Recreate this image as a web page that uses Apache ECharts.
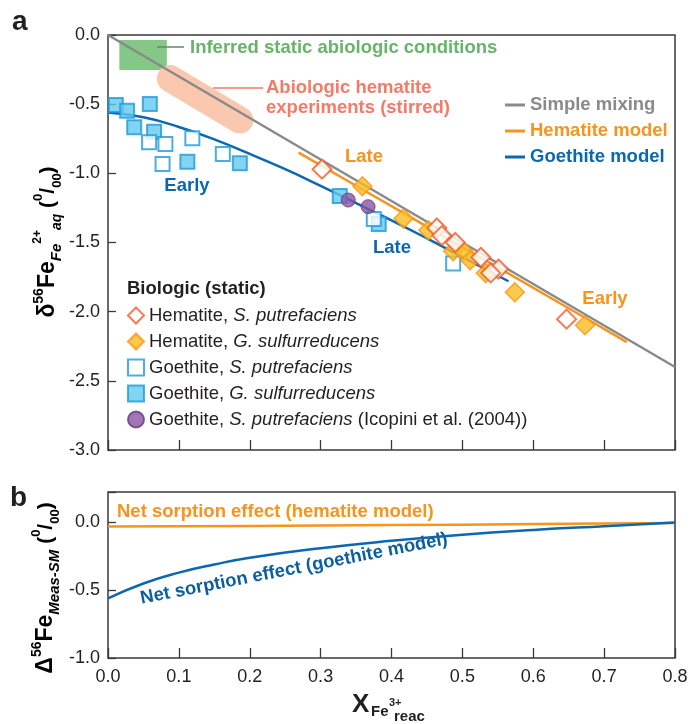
<!DOCTYPE html>
<html><head><meta charset="utf-8">
<script src="https://cdn.jsdelivr.net/npm/echarts@6/dist/echarts.min.js"></script>
<style>html,body{margin:0;padding:0;background:#fff}#c{width:692px;height:724px}</style>
</head><body><div id="c"></div>
<script>
// ---------- data ----------
const xTicks = [0, 0.1, 0.2, 0.3, 0.4, 0.5, 0.6, 0.7, 0.8];
const yTicksTop = [0, -0.5, -1.0, -1.5, -2.0, -2.5, -3.0];
const yTicksBottom = [0, -0.5, -1.0];

const mixX = [0, 0.8];
const mixY = [0, -2.4];

const hemModelX = [0.269, 0.35, 0.45, 0.55, 0.65, 0.732];
const hemModelY = [-0.85, -1.09, -1.385, -1.68, -1.975, -2.22];

const goeModelX = [0, 0.05, 0.1, 0.15, 0.2, 0.25, 0.3, 0.35, 0.4, 0.45, 0.5, 0.565];
const goeModelY = [-0.56, -0.595, -0.665, -0.755, -0.86, -0.97, -1.09, -1.215, -1.34, -1.47, -1.605, -1.78];

const hemSpX = [0.302, 0.464, 0.471, 0.490, 0.526, 0.551, 0.540, 0.647];
const hemSpY = [-0.97, -1.395, -1.45, -1.50, -1.607, -1.692, -1.72, -2.054];

const hemGsX = [0.359, 0.417, 0.452, 0.487, 0.501, 0.511, 0.533, 0.574, 0.673];
const hemGsY = [-1.093, -1.327, -1.411, -1.562, -1.562, -1.628, -1.721, -1.86, -2.098];

const goeSpX = [0.058, 0.081, 0.077, 0.119, 0.162, 0.375, 0.487];
const goeSpY = [-0.776, -0.788, -0.933, -0.747, -0.86, -1.33, -1.651];

const goeGsX = [0.011, 0.027, 0.059, 0.037, 0.065, 0.112, 0.186, 0.327, 0.382];
const goeGsY = [-0.506, -0.547, -0.499, -0.667, -0.699, -0.916, -0.928, -1.164, -1.367];

const icoX = [0.339, 0.367];
const icoY = [-1.193, -1.241];

// abiologic annotations (data space)
const stirredBandX = [0.088, 0.186];
const stirredBandY = [-0.315, -0.615];
const staticBoxX = [0.016, 0.083];
const staticBoxY = [-0.036, -0.253];

// panel b: net sorption effect
const hemDeltaX = [0, 0.2, 0.4, 0.6, 0.8];
const hemDeltaY = [-0.03, -0.025, -0.019, -0.012, -0.003];
const goeDeltaX = [0, 0.05, 0.1, 0.15, 0.2, 0.3, 0.4, 0.5, 0.6, 0.7, 0.8];
const goeDeltaY = [-0.56, -0.45, -0.37, -0.31, -0.26, -0.19, -0.135, -0.09, -0.055, -0.027, 0];

// ---------- chart ----------
const FONT = '"Liberation Sans", Arial, Helvetica, sans-serif';
const zip = (xs, ys) => xs.map((x, i) => [x, ys[i]]);
const onTick = (v, arr) => arr.some(t => Math.abs(t - v) < 1e-6);

const C = {
  gray: '#8a8a8a', orange: '#f7941d', blue: '#0b68b0', red: '#f15a29',
  yellow: '#fdbc1e', sqBorder: '#1d9ad8', sqFill: '#62c9ef', purple: '#8b54a2',
  purpleB: '#5e3b7c', green: '#84c786', greenT: '#69b36b', salmon: '#f9c8ae', salmonT: '#f47a6a',
  text: '#231f20', axis: '#3a3a3a'
};

const chart = echarts.init(document.getElementById('c'), null, { renderer: 'canvas' });

const axisCommon = {
  axisLine: { show: false, onZero: false },
  splitLine: { show: false },
  axisLabel: { color: C.text, fontSize: 18, fontFamily: FONT }
};
const xTick = { inside: true, length: 10, lineStyle: { color: C.axis, width: 1.3 } };
const yTick = { inside: true, length: 8, lineStyle: { color: C.axis, width: 1.3 } };

const legendNames = {
  'Hematite, S. putrefaciens': '{n|Hematite, }{i|S. putrefaciens}',
  'Hematite, G. sulfurreducens': '{n|Hematite, }{i|G. sulfurreducens}',
  'Goethite, S. putrefaciens': '{n|Goethite, }{i|S. putrefaciens}',
  'Goethite, G. sulfurreducens': '{n|Goethite, }{i|G. sulfurreducens}',
  'Goethite, S. putrefaciens (Icopini et al. (2004))': '{n|Goethite, }{i|S. putrefaciens}{n| (Icopini et al. (2004))}'
};

const yTitleRich = {
  m: { fontSize: 23, fontWeight: 'bold', lineHeight: 32, verticalAlign: 'middle', fontFamily: FONT, color: C.text },
  s: { fontSize: 14, fontWeight: 'bold', lineHeight: 14, verticalAlign: 'top', fontFamily: FONT, color: C.text },
  sb: { fontSize: 15, fontWeight: 'bold', fontStyle: 'italic', lineHeight: 17, verticalAlign: 'bottom', fontFamily: FONT, color: C.text },
  s2: { fontSize: 12, fontWeight: 'bold', lineHeight: 20, verticalAlign: 'top', fontFamily: FONT, color: C.text },
  sb2: { fontSize: 14, fontWeight: 'bold', fontStyle: 'italic', lineHeight: 10, verticalAlign: 'bottom', fontFamily: FONT, color: C.text },
  p: { fontSize: 21, fontWeight: 'bold', lineHeight: 32, verticalAlign: 'middle', fontFamily: FONT, color: C.text },
  ps: { fontSize: 13, fontWeight: 'bold', lineHeight: 16, verticalAlign: 'top', fontFamily: FONT, color: C.text },
  pb: { fontSize: 13, fontWeight: 'bold', lineHeight: 14, verticalAlign: 'bottom', fontFamily: FONT, color: C.text }
};

const bold = (color, size) => ({ fill: color, fontSize: size || 18.5, fontWeight: 'bold', fontFamily: FONT });

const option = {
  backgroundColor: '#fff',
  animation: false,
  grid: [
    { left: 108, top: 35, width: 567, height: 415, show: true, borderColor: C.axis, borderWidth: 1.5, backgroundColor: 'transparent' },
    { left: 108, top: 492, width: 567, height: 166, show: true, borderColor: C.axis, borderWidth: 1.5, backgroundColor: 'transparent' }
  ],
  xAxis: [
    Object.assign({}, axisCommon, { gridIndex: 0, type: 'value', position: 'bottom', min: 0, max: 0.8, interval: 0.1,
      axisTick: xTick, axisLabel: { show: false } }),
    Object.assign({}, axisCommon, { gridIndex: 1, type: 'value', position: 'bottom', min: 0, max: 0.8, interval: 0.1,
      axisTick: xTick,
      axisLabel: Object.assign({}, axisCommon.axisLabel, { margin: 10,
        formatter: v => onTick(v, xTicks) ? v.toFixed(1) : '' }) })
  ],
  yAxis: [
    Object.assign({}, axisCommon, { gridIndex: 0, type: 'value', position: 'left', min: -3, max: 0, interval: 0.5,
      axisTick: yTick,
      axisLabel: Object.assign({}, axisCommon.axisLabel, { margin: 8,
        formatter: v => onTick(v, yTicksTop) ? v.toFixed(1) : '' }) }),
    Object.assign({}, axisCommon, { gridIndex: 1, type: 'value', position: 'left', min: -1, max: 0.225, interval: 0.5,
      axisTick: yTick,
      axisLabel: Object.assign({}, axisCommon.axisLabel, { margin: 8,
        formatter: v => onTick(v, yTicksBottom) ? v.toFixed(1) : '' }) })
  ],
  legend: [
    {
      orient: 'vertical', left: 127, top: 305.5, padding: 0, itemWidth: 16, itemHeight: 16, itemGap: 6, itemTextGap: 15,
      selectedMode: false,
      data: Object.keys(legendNames),
      formatter: name => legendNames[name],
      textStyle: {
        lineHeight: 20,
        rich: {
          n: { fontSize: 18.5, color: C.text, fontFamily: FONT },
          i: { fontSize: 18.5, color: C.text, fontStyle: 'italic', fontFamily: FONT }
        }
      }
    },
    {
      orient: 'vertical', left: 505, top: 95, padding: 0, itemWidth: 20, itemHeight: 3, itemGap: 6, itemTextGap: 5,
      icon: 'rect', selectedMode: false,
      textStyle: { fontSize: 18.5, fontWeight: 'bold', fontFamily: FONT, lineHeight: 20 },
      data: [
        { name: 'Simple mixing', textStyle: { color: C.gray } },
        { name: 'Hematite model', textStyle: { color: C.orange } },
        { name: 'Goethite model', textStyle: { color: C.blue } }
      ]
    }
  ],
  series: [
    { name: 'stirred', type: 'line', xAxisIndex: 0, yAxisIndex: 0, data: zip(stirredBandX, stirredBandY),
      symbol: 'none', silent: true, z: 1, lineStyle: { color: C.salmon, width: 27, cap: 'round' } },
    { name: 'Simple mixing', type: 'line', xAxisIndex: 0, yAxisIndex: 0, data: zip(mixX, mixY),
      symbol: 'none', z: 2, itemStyle: { color: C.gray }, lineStyle: { color: C.gray, width: 2.5 } },
    { name: 'staticBox', type: 'scatter', xAxisIndex: 0, yAxisIndex: 0, data: [], z: 4,
      markArea: { silent: true, itemStyle: { color: C.green, opacity: 1 },
        data: [[{ coord: [staticBoxX[0], staticBoxY[0]] }, { coord: [staticBoxX[1], staticBoxY[1]] }]] } },
    { name: 'Hematite model', type: 'line', xAxisIndex: 0, yAxisIndex: 0, data: zip(hemModelX, hemModelY),
      symbol: 'none', z: 3, itemStyle: { color: C.orange }, lineStyle: { color: C.orange, width: 2.5 } },
    { name: 'Goethite model', type: 'line', xAxisIndex: 0, yAxisIndex: 0, data: zip(goeModelX, goeModelY),
      symbol: 'none', smooth: true, z: 3, itemStyle: { color: C.blue }, lineStyle: { color: C.blue, width: 2.5 } },
    { name: 'Goethite, G. sulfurreducens', type: 'scatter', xAxisIndex: 0, yAxisIndex: 0, data: zip(goeGsX, goeGsY),
      symbol: 'rect', symbolSize: 14, z: 5, itemStyle: { color: C.sqFill, borderColor: C.sqBorder, borderWidth: 2 } },
    { name: 'Goethite, S. putrefaciens', type: 'scatter', xAxisIndex: 0, yAxisIndex: 0, data: zip(goeSpX, goeSpY),
      symbol: 'rect', symbolSize: 14, z: 6, itemStyle: { color: '#fff', borderColor: C.sqBorder, borderWidth: 2 } },
    { name: 'Goethite, S. putrefaciens (Icopini et al. (2004))', type: 'scatter', xAxisIndex: 0, yAxisIndex: 0, data: zip(icoX, icoY),
      symbol: 'circle', symbolSize: 14, z: 7, itemStyle: { color: C.purple, borderColor: C.purpleB, borderWidth: 1 } },
    { name: 'Hematite, G. sulfurreducens', type: 'scatter', xAxisIndex: 0, yAxisIndex: 0, data: zip(hemGsX, hemGsY),
      symbol: 'diamond', symbolSize: 19, z: 8, itemStyle: { color: C.yellow, borderColor: C.orange, borderWidth: 1.5 } },
    { name: 'Hematite, S. putrefaciens', type: 'scatter', xAxisIndex: 0, yAxisIndex: 0, data: zip(hemSpX, hemSpY),
      symbol: 'diamond', symbolSize: 19, z: 9, itemStyle: { color: '#fff', borderColor: C.red, borderWidth: 2 } },
    { name: 'hemDelta', type: 'line', xAxisIndex: 1, yAxisIndex: 1, data: zip(hemDeltaX, hemDeltaY),
      symbol: 'none', smooth: true, z: 3, lineStyle: { color: C.orange, width: 2.5 } },
    { name: 'goeDelta', type: 'line', xAxisIndex: 1, yAxisIndex: 1, data: zip(goeDeltaX, goeDeltaY),
      symbol: 'none', smooth: true, z: 3, lineStyle: { color: C.blue, width: 2.5 } }
  ],
  graphic: [
    { type: 'text', left: 12, top: 8, style: { text: 'a', fill: C.text, fontSize: 28, fontWeight: 'bold', fontFamily: FONT } },
    { type: 'text', left: 10, top: 484, style: { text: 'b', fill: C.text, fontSize: 28, fontWeight: 'bold', fontFamily: FONT } },
    { type: 'text', x: 48, y: 242, rotation: Math.PI / 2,
      style: { text: '{m|δ}{s|56}{m|Fe}{sb|Fe}{s2|2+}{sb2|aq}{p| (}{ps|0}{p|/}{pb|00}{p|)}', rich: yTitleRich,
        align: 'center', verticalAlign: 'middle' } },
    { type: 'text', x: 46, y: 588, rotation: Math.PI / 2,
      style: { text: '{m|Δ}{s|56}{m|Fe}{sb|Meas-SM}{p| (}{ps|0}{p|/}{pb|00}{p|)}', rich: yTitleRich,
        align: 'center', verticalAlign: 'middle' } },
    { type: 'text', x: 352, y: 705, style: Object.assign(bold(C.text, 26), { text: 'X', verticalAlign: 'middle' }) },
    { type: 'text', x: 371, y: 712, style: Object.assign(bold(C.text, 15), { text: 'Fe', verticalAlign: 'middle' }) },
    { type: 'text', x: 389, y: 703, style: Object.assign(bold(C.text, 11), { text: '3+', verticalAlign: 'middle' }) },
    { type: 'text', x: 394, y: 717, style: Object.assign(bold(C.text, 15), { text: 'reac', verticalAlign: 'middle' }) },
    { type: 'line', shape: { x1: 157, y1: 47, x2: 184, y2: 47 }, style: { stroke: '#5f8a61', lineWidth: 1.5 }, z: 10 },
    { type: 'text', x: 190, y: 48, style: Object.assign(bold(C.greenT), { text: 'Inferred static abiologic conditions', verticalAlign: 'middle' }) },
    { type: 'line', shape: { x1: 213, y1: 88, x2: 263, y2: 88 }, style: { stroke: C.salmonT, lineWidth: 1.5 }, z: 10 },
    { type: 'text', x: 266, y: 88, style: Object.assign(bold(C.salmonT), { text: 'Abiologic hematite', verticalAlign: 'middle' }) },
    { type: 'text', x: 266, y: 108, style: Object.assign(bold(C.salmonT), { text: 'experiments (stirred)', verticalAlign: 'middle' }) },
    { type: 'text', x: 364, y: 157, style: Object.assign(bold(C.orange), { text: 'Late', align: 'center', verticalAlign: 'middle' }) },
    { type: 'text', x: 605, y: 299, style: Object.assign(bold(C.orange), { text: 'Early', align: 'center', verticalAlign: 'middle' }) },
    { type: 'text', x: 392, y: 248, style: Object.assign(bold(C.blue), { text: 'Late', align: 'center', verticalAlign: 'middle' }) },
    { type: 'text', x: 187, y: 186, style: Object.assign(bold(C.blue), { text: 'Early', align: 'center', verticalAlign: 'middle' }) },
    { type: 'text', x: 127, y: 289, style: Object.assign(bold(C.text), { text: 'Biologic (static)', verticalAlign: 'middle' }) },
    { type: 'text', x: 117, y: 512, style: Object.assign(bold(C.orange), { text: 'Net sorption effect (hematite model)', verticalAlign: 'middle' }) },
    { type: 'text', x: 294, y: 569, rotation: 11 * Math.PI / 180,
      style: Object.assign(bold('#0b5e9f'), { text: 'Net sorption effect (goethite model)', align: 'center', verticalAlign: 'middle' }) }
  ]
};

chart.setOption(option);
</script>
</body></html>
